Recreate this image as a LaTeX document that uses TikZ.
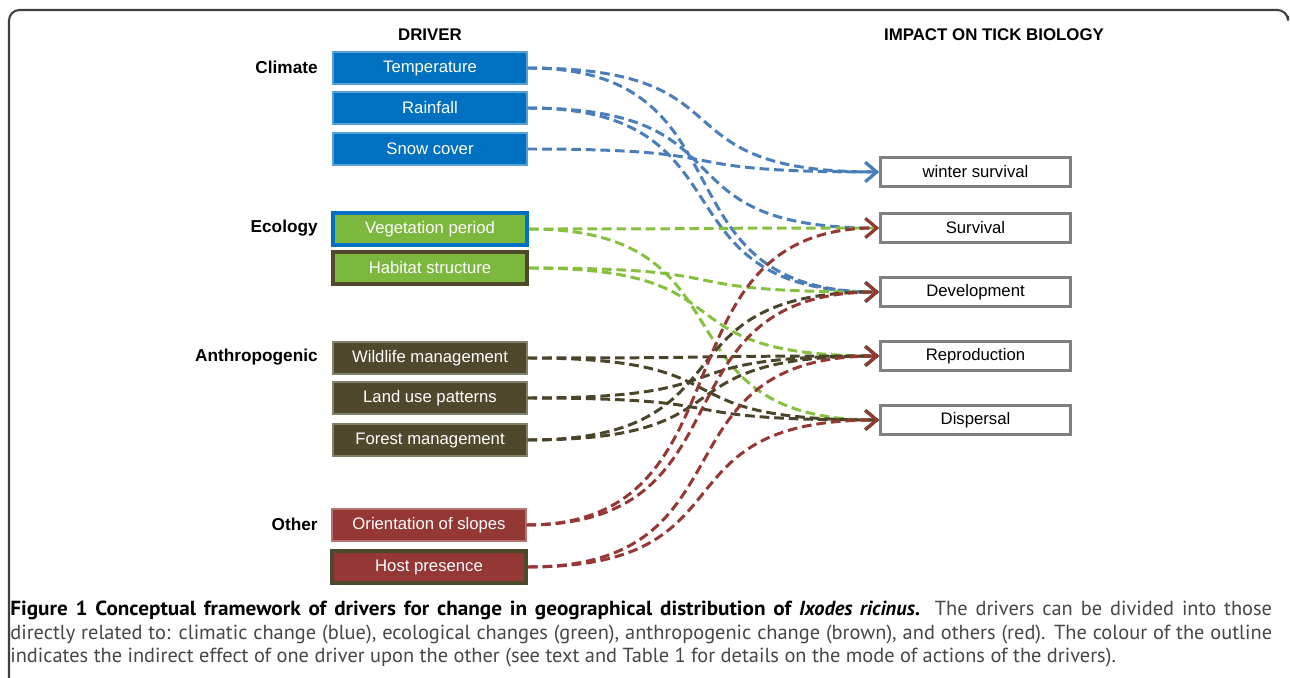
\documentclass[tikz,border=0pt]{standalone}
\usepackage{fontspec}
\setmainfont{Liberation Sans}
\newfontfamily\capfont{PT Sans}[BoldFeatures={FakeStretch=1.04}]
\usetikzlibrary{arrows.meta}
\definecolor{climfill}{RGB}{0,112,192}
\definecolor{ecofill}{RGB}{124,183,62}
\definecolor{anthfill}{RGB}{78,73,45}
\definecolor{othfill}{RGB}{149,55,53}
\definecolor{climline}{RGB}{74,126,187}
\definecolor{ecoline}{RGB}{133,192,62}
\definecolor{anthline}{RGB}{74,69,42}
\definecolor{othline}{RGB}{149,55,53}
\definecolor{impgray}{RGB}{128,128,128}
\definecolor{capgray}{RGB}{70,70,70}
\tikzstyle{driver} = [
    rectangle,
    minimum width=3.88cm,
    minimum height=0.64cm,
    inner sep=0pt,
    text centered,
    text=white,
    line width=0.6pt,
    font=\fontsize{9.5}{11}\selectfont
]
\tikzstyle{impact} = [
    rectangle,
    minimum width=3.8cm,
    minimum height=0.58cm,
    inner sep=0pt,
    text centered,
    draw=impgray,
    line width=1.7pt,
    fill=white,
    font=\fontsize{9.5}{11}\selectfont
]
\tikzstyle{group} = [
    anchor=east,
    inner sep=0pt,
    font=\fontsize{9.8}{11}\selectfont\bfseries
]
\tikzstyle{head} = [
    inner sep=0pt,
    font=\fontsize{9.6}{11}\selectfont\bfseries
]
\tikzstyle{link} = [
    line width=1.7pt,
    dash pattern=on 5.5pt off 2.8pt,
    -{Straight Barb[length=6.5pt, width=11pt]}
]
\tikzstyle{caption} = [
    anchor=north west,
    inner sep=0pt,
    text width=25.24cm,
    align=justify,
    text=capgray,
    font=\capfont\fontsize{11.6}{13.4}\selectfont
]

\begin{document}
\begin{tikzpicture}[x=0.02cm, y=-0.02cm]
        \useasboundingbox (0,0) rectangle (1290,678);
        \draw[black!75, line width=1.2pt, rounded corners=6pt] (9,680) -- (9,10) -- (1288,10) -- (1288,16);

        % headings
        \node (drvhead) [head] at (430,35) {DRIVER};
        \node (imphead) [head] at (994,35) {IMPACT ON TICK BIOLOGY};

        % groups
        \node (climate) [group] at (318,67) {Climate};
        \node (ecology) [group] at (318,228) {Ecology};
        \node (anthro) [group] at (318,357) {Anthropogenic};
        \node (other) [group] at (318,524) {Other};

        % drivers
        \node (temp) [driver, fill=climfill, draw=climfill!65!white] at (430,68) {Temperature};
        \node (rain) [driver, fill=climfill, draw=climfill!65!white] at (430,108) {Rainfall};
        \node (snow) [driver, fill=climfill, draw=climfill!65!white] at (430,149) {Snow cover};
        \node (veg) [driver, fill=ecofill, draw=climfill, line width=2.3pt] at (430,229) {Vegetation period};
        \node (habitat) [driver, fill=ecofill, draw=anthfill, line width=2.3pt] at (430,268) {Habitat structure};
        \node (wildlife) [driver, fill=anthfill, draw=anthfill!70!white] at (430,358) {Wildlife management};
        \node (landuse) [driver, fill=anthfill, draw=anthfill!70!white] at (430,398) {Land use patterns};
        \node (forest) [driver, fill=anthfill, draw=anthfill!70!white] at (430,440) {Forest management};
        \node (slopes) [driver, fill=othfill, draw=othfill!70!white] at (429,525) {Orientation of slopes};
        \node (host) [driver, fill=othfill, draw=anthfill, line width=2.3pt] at (429,567) {Host presence};

        % impacts
        \node (winter) [impact] at (975.5,172) {winter survival};
        \node (surv) [impact] at (975.5,228) {Survival};
        \node (devel) [impact] at (975.5,292) {Development};
        \node (repro) [impact] at (975.5,356) {Reproduction};
        \node (disp) [impact] at (975.5,420) {Dispersal};

        % climate links
        \draw[link, climline] (temp.east) .. controls +(230,0) and +(-230,0) .. (winter.west);
        \draw[link, climline] (temp.east) .. controls +(230,0) and +(-230,0) .. (devel.west);
        \draw[link, climline] (rain.east) .. controls +(230,0) and +(-230,0) .. (surv.west);
        \draw[link, climline] (rain.east) .. controls +(230,0) and +(-230,0) .. (devel.west);
        \draw[link, climline] (snow.east) .. controls +(230,0) and +(-230,0) .. (winter.west);

        % ecology links
        \draw[link, ecoline] (veg.east) .. controls +(230,0) and +(-230,0) .. (surv.west);
        \draw[link, ecoline] (veg.east) .. controls +(230,0) and +(-230,0) .. (disp.west);
        \draw[link, ecoline] (habitat.east) .. controls +(230,0) and +(-230,0) .. (devel.west);
        \draw[link, ecoline] (habitat.east) .. controls +(230,0) and +(-230,0) .. (repro.west);

        % anthropogenic links
        \draw[link, anthline] (wildlife.east) .. controls +(230,0) and +(-230,0) .. (repro.west);
        \draw[link, anthline] (wildlife.east) .. controls +(230,0) and +(-230,0) .. (disp.west);
        \draw[link, anthline] (landuse.east) .. controls +(230,0) and +(-230,0) .. (repro.west);
        \draw[link, anthline] (landuse.east) .. controls +(230,0) and +(-230,0) .. (disp.west);
        \draw[link, anthline] (forest.east) .. controls +(230,0) and +(-230,0) .. (devel.west);
        \draw[link, anthline] (forest.east) .. controls +(230,0) and +(-230,0) .. (repro.west);

        % other links
        \draw[link, othline] (slopes.east) .. controls +(230,0) and +(-230,0) .. (surv.west);
        \draw[link, othline] (slopes.east) .. controls +(230,0) and +(-230,0) .. (devel.west);
        \draw[link, othline] (host.east) .. controls +(230,0) and +(-230,0) .. (repro.west);
        \draw[link, othline] (host.east) .. controls +(230,0) and +(-230,0) .. (disp.west);

        % caption
        \node (caption) [caption] at (10,601) {\textcolor{black}{\bfseries Figure 1 Conceptual framework of drivers for change in geographical distribution of \textit{Ixodes ricinus}.} The drivers can be divided into those\linebreak
        directly related to: climatic change (blue), ecological changes (green), anthropogenic change (brown), and others (red). The colour of the outline\linebreak
        indicates the indirect effect of one driver upon the other (see text and Table 1 for details on the mode of actions of the drivers).};
    \end{tikzpicture}
\end{document}
